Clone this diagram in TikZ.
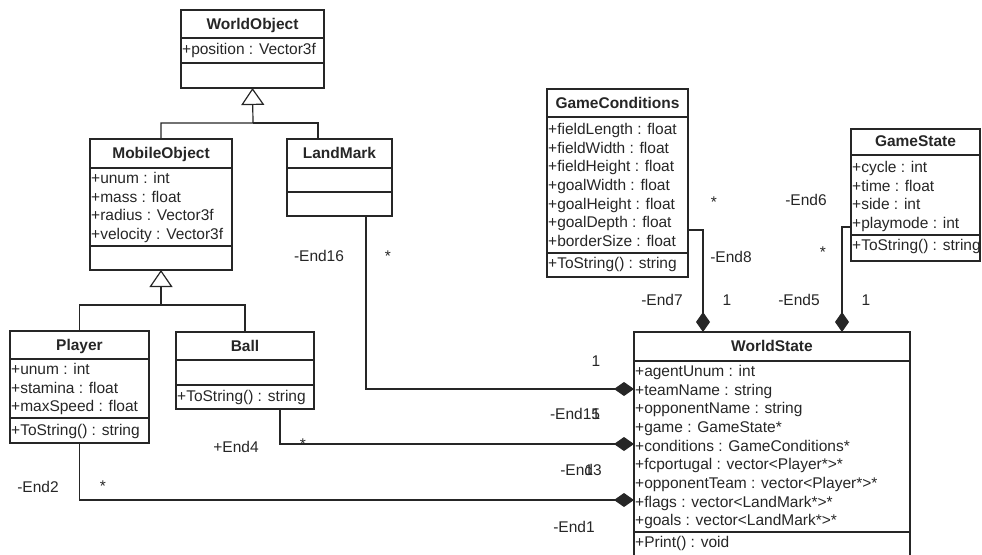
\documentclass[tikz,border=0pt]{standalone}
\usepackage{fontspec}
\setmainfont{Liberation Sans}
\usetikzlibrary{arrows.meta}
\tikzset{
    umlclass/.style = {rectangle, draw=black!85, line width=1.2pt, anchor=north west, inner sep=0pt, outer sep=0pt},
    umltitle/.style = {anchor=base, inner sep=0pt, font=\fontsize{15.5}{18}\selectfont\bfseries},
    umlattr/.style = {anchor=base west, inner sep=0pt},
    umllabel/.style = {anchor=base, inner sep=0pt},
    umldiv/.style = {draw=black!85, line width=1.2pt},
    edgen/.style = {line width=1.2pt, draw=black!85},
    edgeinh/.style = {edgen, -{Triangle[open, length=17pt, width=23pt]}},
    edgecomp/.style = {edgen, -{Diamond[length=20pt, width=14pt]}},
}
% divider line across a class box
\newcommand{\umldivider}[2]{\draw[umldiv] (#1.west |- 0,#2) -- (#1.east |- 0,#2);}
% one text line per entry, first baseline at #3
\newcommand{\umlrows}[4]{%
  \foreach \t [count=\i from 0] in {#4}
    \node[umlattr] (#1-\i) at (#2, {#3+18.65*\i}) {\t};}

\begin{document}
\begin{tikzpicture}[x=1pt, y=-1pt, font=\fontsize{15.5}{18}\selectfont, text=black!85]
\useasboundingbox (0,0) rectangle (982,554);
\clip (0,0) rectangle (982,554);
%
% classes
\node[umlclass, minimum width=143pt, minimum height=78pt] (wobj) at (181,10) {};
\node[umltitle] (wobjt) at (252.5,29.5) {WorldObject};
\umldivider{wobj}{38} \umldivider{wobj}{63}
\umlrows{wobja}{182}{54.5}{+position : Vector3f}
%
\node[umlclass, minimum width=142pt, minimum height=131pt] (mobj) at (90,139) {};
\node[umltitle] (mobjt) at (161,158.5) {MobileObject};
\umldivider{mobj}{168} \umldivider{mobj}{246}
\umlrows{mobja}{91}{183.5}{+unum : int, +mass : float, +radius : Vector3f, +velocity : Vector3f}
%
\node[umlclass, minimum width=105pt, minimum height=77pt] (lmark) at (287,139) {};
\node[umltitle] (lmarkt) at (339.5,158.5) {LandMark};
\umldivider{lmark}{168} \umldivider{lmark}{192}
%
\node[umlclass, minimum width=139pt, minimum height=112pt] (player) at (10,331) {};
\node[umltitle] (playert) at (79.5,350.5) {Player};
\umldivider{player}{359} \umldivider{player}{418}
\umlrows{playera}{11}{374.5}{+unum : int, +stamina : float, +maxSpeed : float}
\umlrows{playero}{11}{435.5}{+ToString() : string}
%
\node[umlclass, minimum width=138pt, minimum height=77pt] (ball) at (176,332) {};
\node[umltitle] (ballt) at (245,351) {Ball};
\umldivider{ball}{360} \umldivider{ball}{385}
\umlrows{ballo}{177}{401.5}{+ToString() : string}
%
\node[umlclass, minimum width=141pt, minimum height=188pt] (gcond) at (547,89) {};
\node[umltitle] (gcondt) at (617.5,108.5) {GameConditions};
\umldivider{gcond}{117} \umldivider{gcond}{253}
\umlrows{gconda}{548}{134.5}{+fieldLength : float, +fieldWidth : float, +fieldHeight : float, +goalWidth : float, +goalHeight : float, +goalDepth : float, +borderSize : float}
\umlrows{gcondo}{548}{268.5}{+ToString() : string}
%
\node[umlclass, minimum width=129pt, minimum height=132pt] (gstate) at (851,129) {};
\node[umltitle] (gstatet) at (915.5,146.5) {GameState};
\umldivider{gstate}{155} \umldivider{gstate}{235}
\umlrows{gstatea}{852}{172.5}{+cycle : int, +time : float, +side : int, +playmode : int}
\umlrows{gstateo}{852}{250.5}{+ToString() : string}
%
\node[umlclass, minimum width=276pt, minimum height=230pt] (ws) at (634,332) {};
\node[umltitle] (wst) at (772,351) {WorldState};
\umldivider{ws}{361} \umldivider{ws}{532}
\umlrows{wsa}{635}{376.5}{+agentUnum : int, +teamName : string, +opponentName : string, +game : GameState*, +conditions : GameConditions*, +fcportugal : vector<Player*>*, +opponentTeam : vector<Player*>*, +flags : vector<LandMark*>*, +goals : vector<LandMark*>*}
\umlrows{wso}{635}{547.5}{+Print() : void}
%
% generalisations
\coordinate (j1) at (253,123);
\coordinate (j2) at (161,305);
\draw[edgen] ([xshift=-21.5pt]lmark.north) |- (j1);
\draw[edgeinh] (mobj.north) |- (j1) -- (wobj.south);
\draw[edgen] (ball.north) |- (j2);
\draw[edgeinh] (player.north) |- (j2) -- (mobj.south);
%
% compositions
\draw[edgecomp] ([xshift=26.5pt]lmark.south) |- (ws.west |- 0,389);
\draw[edgecomp] ([xshift=35pt]ball.south) |- (ws.west |- 0,444);
\draw[edgecomp] (player.south) |- (ws.west |- 0,500);
\draw[edgecomp] (gcond.east |- 0,230) -| (ws.north -| 703,0);
\draw[edgecomp] (gstate.west |- 0,227) -| (ws.north -| 842,0);
%
% role names and multiplicities
\node[umllabel] (l16) at (319,261.5) {-End16};
\node[umllabel] (m16) at (388,261) {*};
\node[umllabel] (m15) at (596,366.5) {1};
\node[umllabel] (l15) at (575,419.5) {-End15};
\node[umllabel] (m15b) at (596,419.5) {1};
\node[umllabel] (l4) at (236,452.5) {+End4};
\node[umllabel] (m4) at (303,449.5) {*};
\node[umllabel] (l3) at (581,475.5) {-End3};
\node[umllabel] (m3) at (589,475.5) {1};
\node[umllabel] (l1) at (574,532.5) {-End1};
\node[umllabel] (l2) at (38,492.5) {-End2};
\node[umllabel] (m2) at (103,491.5) {*};
\node[umllabel] (m8) at (714,207.5) {*};
\node[umllabel] (l6) at (806,205.5) {-End6};
\node[umllabel] (l8) at (731,262.5) {-End8};
\node[umllabel] (m6) at (823,257.5) {*};
\node[umllabel] (l7) at (662,305.5) {-End7};
\node[umllabel] (m7) at (727,305.5) {1};
\node[umllabel] (l5) at (799,305.5) {-End5};
\node[umllabel] (m5) at (866,305.5) {1};

\end{tikzpicture}
\end{document}
